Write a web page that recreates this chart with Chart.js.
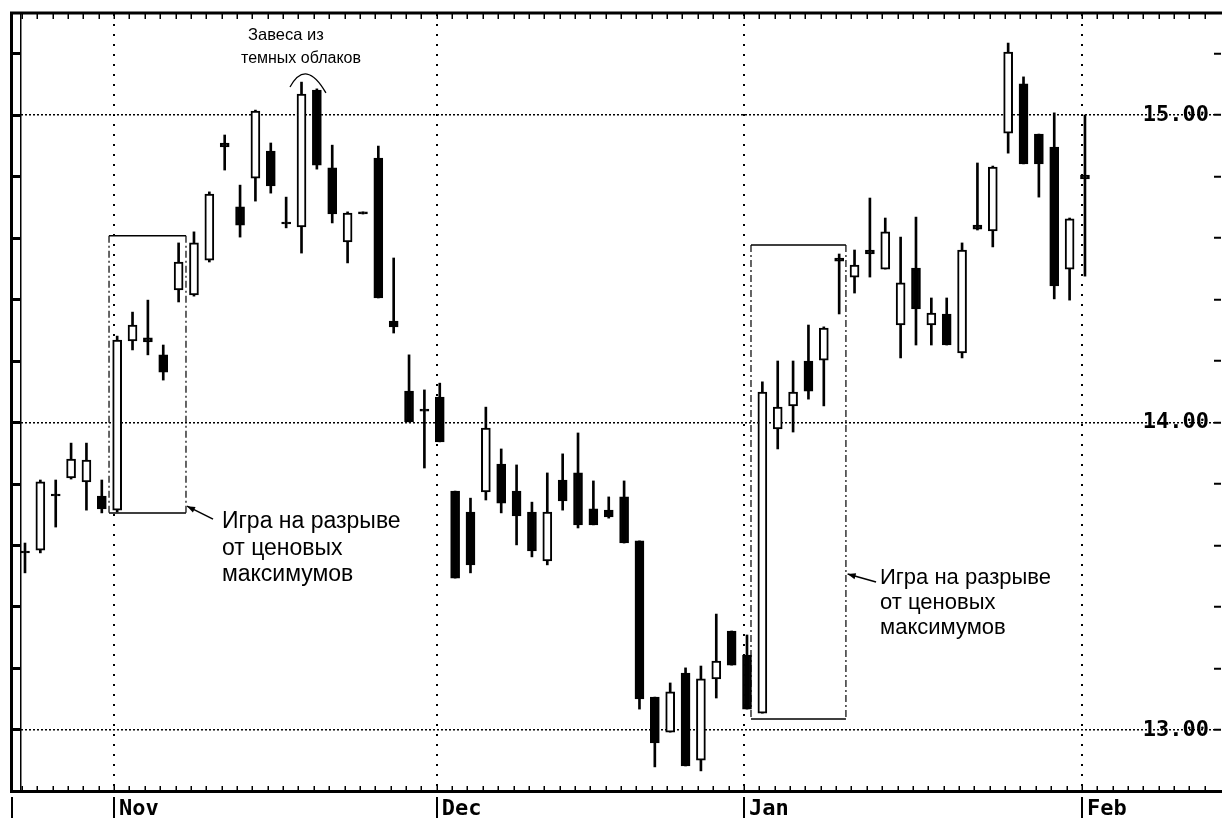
<!DOCTYPE html>
<html lang="ru">
<head>
<meta charset="utf-8">
<title>Свечной график</title>
<script src="https://cdn.jsdelivr.net/npm/chart.js@4.4.1/dist/chart.umd.min.js"></script>
<style>
  html, body { margin: 0; padding: 0; background: #fff; }
  #wrap { position: relative; width: 1222px; height: 820px; }
</style>
</head>
<body>
<div id="wrap"><canvas id="chart"></canvas></div>
<script>
// Daily sessions, late October to the first days of February
const openPrices = [
  13.582, 13.585, 13.767, 13.820, 13.807, 13.761, 13.715, 14.265, 14.275, 14.220,
  14.431, 14.415, 14.528, 14.909, 14.701, 14.795, 14.883, 14.652, 14.636, 15.081,
  14.828, 14.587, 14.685, 14.860, 14.330, 14.102, 14.044, 14.083, 13.777, 13.709,
  13.774, 13.865, 13.777, 13.709, 13.550, 13.813, 13.836, 13.719, 13.715, 13.758,
  13.615, 13.107, 12.993, 13.185, 12.902, 13.166, 13.322, 13.244, 13.055, 13.979,
  14.054, 14.200, 14.203, 14.535, 14.473, 14.561, 14.499, 14.317, 14.502, 14.317,
  14.353, 14.226, 14.642, 14.623, 14.941, 15.101, 14.938, 14.896, 14.499, 14.805
];
const highPrices = [
  13.608, 13.813, 13.813, 13.933, 13.933, 13.813, 14.281, 14.359, 14.398, 14.252,
  14.584, 14.620, 14.750, 14.935, 14.772, 15.016, 14.909, 14.733, 15.107, 15.085,
  14.902, 14.685, 14.685, 14.899, 14.535, 14.220, 14.106, 14.128, 13.777, 13.754,
  14.050, 13.914, 13.862, 13.741, 13.836, 13.898, 13.966, 13.810, 13.758, 13.810,
  13.615, 13.107, 13.153, 13.202, 13.208, 13.377, 13.322, 13.309, 14.132, 14.200,
  14.200, 14.317, 14.311, 14.548, 14.561, 14.730, 14.665, 14.603, 14.668, 14.405,
  14.405, 14.584, 14.844, 14.834, 15.234, 15.124, 14.938, 15.007, 14.665, 15.000
];
const lowPrices = [
  13.511, 13.576, 13.660, 13.816, 13.715, 13.706, 13.709, 14.236, 14.220, 14.138,
  14.392, 14.411, 14.522, 14.821, 14.603, 14.720, 14.746, 14.633, 14.551, 14.824,
  14.649, 14.519, 14.678, 14.405, 14.291, 14.002, 13.852, 13.937, 13.494, 13.511,
  13.748, 13.706, 13.602, 13.563, 13.537, 13.715, 13.657, 13.667, 13.689, 13.608,
  13.068, 12.880, 12.993, 12.883, 12.867, 13.104, 13.211, 13.068, 13.055, 13.914,
  13.969, 14.076, 14.054, 14.353, 14.421, 14.473, 14.499, 14.210, 14.252, 14.252,
  14.252, 14.210, 14.626, 14.571, 14.876, 14.841, 14.733, 14.402, 14.398, 14.476
];
const closePrices = [
  13.576, 13.807, 13.761, 13.881, 13.878, 13.719, 14.268, 14.317, 14.262, 14.164,
  14.522, 14.584, 14.743, 14.896, 14.642, 15.013, 14.769, 14.646, 15.068, 14.837,
  14.678, 14.681, 14.678, 14.405, 14.311, 14.002, 14.037, 13.937, 13.494, 13.537,
  13.982, 13.738, 13.696, 13.582, 13.709, 13.745, 13.667, 13.667, 13.693, 13.608,
  13.101, 12.958, 13.124, 12.883, 13.166, 13.224, 13.211, 13.068, 14.099, 14.050,
  14.099, 14.102, 14.307, 14.525, 14.512, 14.548, 14.620, 14.454, 14.369, 14.356,
  14.252, 14.561, 14.629, 14.831, 15.205, 14.841, 14.841, 14.444, 14.662, 14.792
];

// Month names and the session on which each month opens
const monthLabels = ['Nov', 'Dec', 'Jan', 'Feb'];
const monthFirstSession = [6, 27, 47, 69];

// Price levels carrying a label on the right-hand axis
const priceTicks = [13, 14, 15];

const sessions = openPrices.map((_, i) => i);
const isPriceTick = v => priceTicks.some(p => Math.abs(p - v) < 1e-6);
const TICK_SHIFT = 0.2;   // day/month marks sit just left of the candle

const wickData = sessions.map(i => ({ x: i, y: [lowPrices[i], highPrices[i]] }));
const bodyData = sessions.map(i => ({ x: i, y: [openPrices[i], closePrices[i]] }));

const Y_MIN = 12.8016, Y_MAX = 15.3285;
const monoFont = { family: '"DejaVu Sans Mono", "Liberation Mono", monospace', weight: 'bold', size: 22 };

// Chart furniture: outer frame, daily tick marks, month separators
const framePlugin = {
  id: 'frame',
  afterDraw(chart) {
    const ctx = chart.ctx, xs = chart.scales.x, a = chart.chartArea, W = chart.width;
    ctx.save();
    ctx.strokeStyle = '#000';
    ctx.lineWidth = 3;
    ctx.beginPath();
    ctx.moveTo(10, a.top - 1); ctx.lineTo(W, a.top - 1);
    ctx.moveTo(10, a.bottom + 0.5); ctx.lineTo(W, a.bottom + 0.5);
    ctx.moveTo(11.5, a.top - 2.5); ctx.lineTo(11.5, a.bottom + 2);
    ctx.stroke();

    ctx.lineWidth = 1.5;
    ctx.beginPath();
    for (let i = Math.ceil(xs.min + TICK_SHIFT); i - TICK_SHIFT <= xs.max; i++) {
      const px = Math.round(xs.getPixelForValue(i - TICK_SHIFT)) + 0.25;
      ctx.moveTo(px, a.top); ctx.lineTo(px, a.top + 5);
      ctx.moveTo(px, a.bottom - 5); ctx.lineTo(px, a.bottom);
    }
    ctx.stroke();

    ctx.lineWidth = 2;
    ctx.beginPath();
    ctx.moveTo(12, a.bottom + 6); ctx.lineTo(12, a.bottom + 27);
    monthFirstSession.forEach(i => {
      const px = Math.round(xs.getPixelForValue(i - TICK_SHIFT));
      ctx.moveTo(px, a.bottom + 6); ctx.lineTo(px, a.bottom + 27);
    });
    ctx.stroke();
    ctx.restore();
  }
};

// Pattern notes: boxes around the gap sessions, arrows, captions, arc
const notes = {
  boxes: [
    { x0: 5.47, x1: 10.48, y0: 13.706, y1: 14.607 },
    { x0: 47.26, x1: 53.44, y0: 13.036, y1: 14.577 }
  ],
  arrows: [
    { from: [12.24, 13.686], to: [10.55, 13.728] },
    { from: [55.40, 13.481], to: [53.55, 13.507] }
  ],
  captions: [
    { x: 12.82, y: 13.676, size: 23, lead: 26.5, lines: ['Игра на разрыве', 'от ценовых', 'максимумов'] },
    { x: 55.66, y: 13.494, size: 22, lead: 25, lines: ['Игра на разрыве', 'от ценовых', 'максимумов'] },
    { x: 14.52, y: 15.260, size: 16.5, lead: 0, lines: ['Завеса из'] },
    { x: 14.06, y: 15.185, size: 16, lead: 0, lines: ['темных облаков'] }
  ],
  arc: { p0: [17.25, 15.091], c: [18.29, 15.185], p1: [19.59, 15.072] }
};

const notesPlugin = {
  id: 'notes',
  afterDatasetsDraw(chart) {
    const ctx = chart.ctx, xs = chart.scales.x, ys = chart.scales.y;
    const P = (x, y) => [xs.getPixelForValue(x), ys.getPixelForValue(y)];
    ctx.save();
    ctx.strokeStyle = '#000';
    ctx.fillStyle = '#000';

    notes.boxes.forEach(b => {
      const [l, t] = P(b.x0, b.y1), [r, btm] = P(b.x1, b.y0);
      ctx.lineWidth = 1.5;
      ctx.setLineDash([]);
      ctx.beginPath();
      ctx.moveTo(l, t); ctx.lineTo(r, t);
      ctx.moveTo(l, btm); ctx.lineTo(r, btm);
      ctx.stroke();
      ctx.lineWidth = 1.2;
      ctx.setLineDash([7, 3, 2, 3]);
      ctx.beginPath();
      ctx.moveTo(l, t); ctx.lineTo(l, btm);
      ctx.moveTo(r, t); ctx.lineTo(r, btm);
      ctx.stroke();
    });
    ctx.setLineDash([]);

    notes.arrows.forEach(a => {
      const [x0, y0] = P(...a.from), [x1, y1] = P(...a.to);
      const ang = Math.atan2(y1 - y0, x1 - x0);
      ctx.lineWidth = 1.5;
      ctx.beginPath();
      ctx.moveTo(x0, y0); ctx.lineTo(x1, y1);
      ctx.stroke();
      ctx.beginPath();
      ctx.moveTo(x1, y1);
      ctx.lineTo(x1 - 8 * Math.cos(ang) + 3 * Math.sin(ang), y1 - 8 * Math.sin(ang) - 3 * Math.cos(ang));
      ctx.lineTo(x1 - 8 * Math.cos(ang) - 3 * Math.sin(ang), y1 - 8 * Math.sin(ang) + 3 * Math.cos(ang));
      ctx.closePath();
      ctx.fill();
    });

    ctx.textAlign = 'left';
    ctx.textBaseline = 'middle';
    notes.captions.forEach(c => {
      ctx.font = c.size + 'px "Liberation Sans", Arial, sans-serif';
      const [x, y] = P(c.x, c.y);
      c.lines.forEach((line, k) => ctx.fillText(line, x, y + k * c.lead));
    });

    const [ax0, ay0] = P(...notes.arc.p0), [acx, acy] = P(...notes.arc.c), [ax1, ay1] = P(...notes.arc.p1);
    ctx.lineWidth = 1.3;
    ctx.beginPath();
    ctx.moveTo(ax0, ay0);
    ctx.quadraticCurveTo(acx, acy, ax1, ay1);
    ctx.stroke();
    ctx.restore();
  }
};

new Chart(document.getElementById('chart'), {
  type: 'bar',
  data: {
    datasets: [
      {
        label: 'Тени',
        data: wickData,
        backgroundColor: '#000',
        borderWidth: 0,
        barThickness: 2,
        order: 2
      },
      {
        label: 'Тела',
        data: bodyData,
        backgroundColor: ctx => closePrices[ctx.dataIndex] >= openPrices[ctx.dataIndex] ? '#fff' : '#000',
        borderColor: '#000',
        borderWidth: 2,
        borderSkipped: false,
        barThickness: 9,
        order: 1
      }
    ]
  },
  options: {
    responsive: true,
    maintainAspectRatio: false,
    animation: false,
    layout: { padding: { top: 14, left: 0, right: 0, bottom: 0 } },
    datasets: { bar: { grouped: false } },
    plugins: { legend: { display: false }, tooltip: { enabled: false } },
    scales: {
      x: {
        type: 'linear',
        min: -0.26,
        max: 77.4,
        offset: false,
        afterBuildTicks: s => { s.ticks = monthFirstSession.map(i => ({ value: i - TICK_SHIFT })); },
        ticks: {
          autoSkip: false,
          maxRotation: 0,
          align: 'start',
          labelOffset: 5,
          padding: 5,
          color: '#000',
          font: monoFont,
          callback: (v, i) => monthLabels[i]
        },
        grid: { offset: false, color: '#000', lineWidth: 2, drawTicks: false },
        border: { display: false, dash: [2, 8] },
        afterFit: s => { s.height = 29; s.paddingLeft = 0; s.paddingRight = 0; }
      },
      y: {
        type: 'linear',
        position: 'right',
        min: Y_MIN,
        max: Y_MAX,
        beginAtZero: false,
        ticks: {
          stepSize: 0.2,
          includeBounds: false,
          mirror: true,
          padding: -5,
          color: '#000',
          font: monoFont,
          callback: v => isPriceTick(v) ? v.toFixed(2) : ''
        },
        grid: {
          color: ctx => (ctx.tick && isPriceTick(ctx.tick.value)) ? '#000' : 'rgba(0,0,0,0)',
          lineWidth: 1.5,
          tickColor: '#000',
          tickWidth: 2,
          tickLength: 7
        },
        border: { display: false, dash: [2, 2] },
        afterFit: s => { s.width = 8; s.paddingTop = 0; s.paddingBottom = 0; }
      },
      yl: {
        type: 'linear',
        position: 'left',
        min: Y_MIN,
        max: Y_MAX,
        beginAtZero: false,
        ticks: { stepSize: 0.2, includeBounds: false, display: false },
        grid: { drawOnChartArea: false, color: '#000', tickColor: '#000', tickWidth: 3, tickLength: 10 },
        border: { display: true, color: '#000', width: 1.5 },
        afterFit: s => { s.width = 21; s.paddingTop = 0; s.paddingBottom = 0; }
      }
    }
  },
  plugins: [framePlugin, notesPlugin]
});
</script>
</body>
</html>
